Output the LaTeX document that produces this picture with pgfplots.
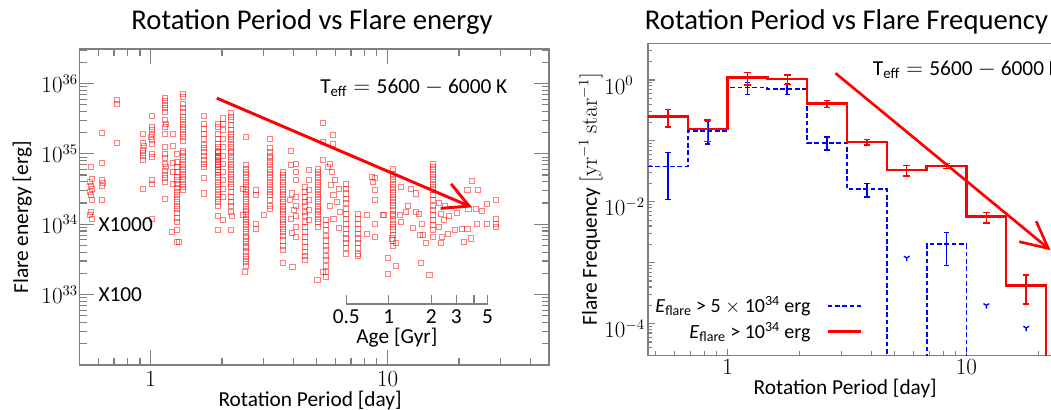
\documentclass[border=0pt]{standalone}
\usepackage[no-math]{fontspec}
\setmainfont{Carlito}
\usepackage{pgfplots}
\pgfplotsset{compat=1.18}
\usetikzlibrary{arrows.meta}
\newcommand{\lab}{\fontsize{16}{19}\selectfont}
\newcommand{\leg}{\fontsize{15}{18}\selectfont}
\newcommand{\ttl}{\fontsize{21.5}{26}\selectfont}
\definecolor{ax}{gray}{0.5}
\begin{document}
\begin{tikzpicture}[x=1pt,y=1pt]
% ---------------- left panel ----------------
\begin{axis}[
  at={(59.6pt,33.75pt)}, anchor=south west,
  scale only axis, width=352.2pt, height=237pt,
  xmode=log, ymode=log,
  xmin=0.5, xmax=48, ymin=1e32, ymax=3.1e36,
  axis line style={ax, line width=0.9pt},
  every tick/.style={ax, line width=0.9pt},
  tick align=inside,
  major tick length=11pt, minor tick length=5.5pt,
  xtick={1,10}, xticklabels={$1$,$10$},
  minor xtick={0.6,0.7,0.8,0.9,2,3,4,5,6,7,8,9,20,30,40},
  ytick={1e33,1e34,1e35,1e36},
  minor ytick={2e32,3e32,4e32,5e32,6e32,7e32,8e32,9e32,2e33,3e33,4e33,5e33,6e33,7e33,8e33,9e33,2e34,3e34,4e34,5e34,6e34,7e34,8e34,9e34,2e35,3e35,4e35,5e35,6e35,7e35,8e35,9e35,2e36,3e36},
  tick label style={font=\lab},
  xticklabel style={anchor=base, yshift=-16pt},
  yticklabel style={inner xsep=1pt},
  xlabel={Rotation Period [day]}, ylabel={Flare energy [erg]},
  label style={font=\lab},
  xlabel style={at={(axis description cs:0.491,-0.132)}, anchor=base},
  ylabel style={at={(axis description cs:-0.122,0.467)}, anchor=center},
]
\addplot[only marks, mark=square, mark size=1.9pt, red, mark options={draw opacity=0.5, line width=0.55pt, fill=none}] coordinates {
(0.56,6.6e34)(0.565,4.4e34)(0.555,4.0e34)(0.56,3.5e34)(0.565,3.2e34)(0.555,2.9e34)(0.56,2.6e34)(0.565,2.2e34)(0.56,1.5e34)(0.555,1.35e34)(0.565,1.2e34)
(0.62,2.0e35)(0.62,7.4e34)(0.62,4.3e34)(0.625,3.9e34)(0.62,3.5e34)(0.62,2.2e34)
(0.72,5.8e35)(0.72,5.2e35)(0.72,1.45e35)
(0.93,1.9e35)(0.93,1.45e35)(0.935,1.3e35)(0.93,1.15e35)(0.925,1.05e35)(0.93,9.3e34)(0.93,8.1e34)(0.93,3.2e34)
(1.01,3.5e35)(1.01,2.45e35)(1.015,2.2e35)(1.01,1.95e35)(1.005,1.75e35)(1.01,1.6e35)(1.01,1.4e35)(1.01,1.0e35)(1.01,9e34)(1.01,4.3e34)(1.01,3.8e34)(1.01,1.2e34)
(1.15,6.3e35)(1.15,5.7e35)(1.15,4.9e35)(1.145,4.5e35)(1.15,4.0e35)(1.15,3.0e35)(1.155,2.7e35)(1.15,2.4e35)(1.15,1.95e35)(1.15,1.26e35)(1.15,1.0e35)(1.145,8.7e34)(1.15,7.2e34)(1.155,6.5e34)(1.15,5.8e34)(1.15,5.0e34)(1.145,4.5e34)(1.15,4.0e34)(1.15,2.3e34)
(1.24,1.9e35)(1.24,1.3e35)(1.24,7.4e34)(1.24,5.6e34)(1.24,3.8e34)
(1.29,1.0e35)(1.29,7.8e34)(1.29,6.5e34)(1.29,5.6e34)(1.29,4.7e34)(1.29,4.3e34)(1.29,3.7e34)(1.29,3.3e34)(1.29,2.9e34)(1.29,2.6e34)(1.29,2.3e34)(1.29,2.1e34)(1.29,1.85e34)(1.29,1.65e34)(1.29,1.45e34)(1.29,1.25e34)(1.29,1.07e34)(1.29,8.3e33)(1.29,5.6e33)(1.23,7.8e33)(1.31,5.6e33)
(1.36,7.2e35)(1.36,6.5e35)(1.36,5.1e35)(1.36,4.5e35)(1.36,3.9e35)(1.36,3.4e35)(1.36,3.0e35)(1.36,2.7e35)(1.36,2.45e35)(1.36,2.2e35)(1.36,1.95e35)(1.36,1.75e35)(1.36,1.55e35)(1.36,1.12e35)(1.36,1.02e35)(1.36,9.1e34)(1.36,8.1e34)(1.36,7.2e34)(1.36,6.6e34)(1.36,5.9e34)(1.36,5.2e34)(1.36,4.7e34)(1.36,4.3e34)(1.36,3.8e34)(1.36,3.4e34)(1.36,3.1e34)
(1.68,3.5e35)(1.68,2.7e35)(1.68,2.3e35)(1.68,1.95e35)(1.68,1.65e35)(1.68,1.35e35)(1.68,1.2e35)(1.68,1.07e35)(1.68,9.5e34)(1.68,8.1e34)(1.68,7.2e34)(1.68,6.6e34)(1.68,4.5e34)(1.68,2.75e34)
(1.92,2.7e35)(1.92,2.45e35)(1.92,1.95e35)(1.92,1.65e35)(1.92,1.4e35)(1.92,1.26e35)(1.92,1.12e35)(1.92,1.07e35)(1.92,1.02e35)(1.92,9.5e34)(1.92,9.1e34)(1.92,8.7e34)(1.92,8.1e34)(1.92,7.8e34)(1.92,7.2e34)(1.92,6.9e34)(1.92,6.6e34)(1.92,6.0e34)(1.92,5.6e34)(1.92,5.0e34)(1.92,4.5e34)(1.92,4.0e34)(1.92,3.6e34)(1.92,3.2e34)(1.92,2.9e34)(1.92,2.6e34)(1.92,2.3e34)(1.92,2.1e34)(1.92,1.85e34)(1.92,1.3e34)(1.92,8.3e33)
(2.01,3.2e35)(2.01,2.7e35)(2.01,2.2e35)(2.01,1.65e35)(2.01,1.26e35)(2.01,9.5e34)(2.01,7.2e34)(2.01,5.6e34)(2.01,4.3e34)(2.01,3.2e34)(2.01,2.45e34)(2.01,1.15e34)
(2.18,3.8e35)(2.18,3.4e35)(2.18,3.0e35)(2.18,2.6e35)(2.18,2.2e35)(2.18,1.95e35)(2.18,1.75e35)(2.18,1.6e35)(2.18,1.4e35)(2.18,1.26e35)(2.18,1.12e35)(2.18,1.02e35)(2.18,9.1e34)(2.18,8.1e34)(2.18,7.2e34)(2.18,6.6e34)(2.18,5.9e34)(2.18,5.2e34)(2.18,4.7e34)(2.18,4.3e34)(2.18,3.8e34)(2.18,3.4e34)(2.18,2.9e34)(2.18,2.45e34)(2.18,2.1e34)(2.18,1.8e34)(2.18,1.5e34)(2.2,1.3e34)(2.18,8.3e33)
(2.51,1.75e35)(2.51,6.9e34)(2.51,6.2e34)(2.51,5.6e34)(2.51,5.0e34)(2.51,4.5e34)(2.51,4.0e34)(2.51,3.6e34)(2.51,3.2e34)(2.51,2.9e34)(2.51,2.6e34)(2.51,2.3e34)(2.51,2.1e34)(2.51,1.85e34)(2.51,1.65e34)(2.51,1.5e34)(2.51,1.35e34)(2.51,1.2e34)(2.51,1.07e34)(2.51,9.8e33)(2.51,8.7e33)(2.51,7.8e33)(2.51,6.9e33)(2.51,6.3e33)(2.51,5.6e33)(2.51,5.0e33)(2.51,4.6e33)(2.51,4.1e33)(2.51,3.6e33)(2.51,3.2e33)(2.51,2.95e33)(2.51,2.6e33)(2.49,2.1e33)(2.45,3.2e34)(2.45,1.35e34)
(2.77,3.1e34)(2.77,2.6e34)(2.77,1.02e34)(2.77,8.7e33)(3.0,1.35e34)
(3.19,1.65e35)(3.19,1.2e35)(3.19,1.07e35)(3.19,9.5e34)(3.19,8.7e34)(3.19,7.8e34)(3.19,6.9e34)(3.19,6.2e34)(3.19,5.6e34)(3.19,5.0e34)(3.19,4.5e34)(3.19,4.0e34)(3.19,3.6e34)(3.19,3.2e34)(3.19,2.9e34)(3.19,2.6e34)(3.19,2.2e34)(3.19,1.85e34)(3.19,1.65e34)
(3.61,5.6e34)(3.61,5.0e34)(3.61,4.5e34)(3.61,4.0e34)(3.61,3.6e34)(3.61,3.2e34)(3.61,2.9e34)(3.61,2.6e34)(3.61,2.3e34)(3.61,2.1e34)(3.61,1.85e34)(3.61,1.65e34)(3.61,1.5e34)(3.61,1.35e34)(3.61,1.2e34)(3.61,1.07e34)(3.61,9.8e33)(3.61,8.7e33)(3.61,7.8e33)(3.61,6.9e33)(3.61,5.9e33)(3.61,5.0e33)(3.61,4.3e33)(3.61,2.8e33)
(3.9,1.1e35)(3.9,6.9e34)(3.95,2.75e34)(3.85,2.2e34)(4.0,1.6e34)(3.9,1.2e34)(3.95,7.5e33)(3.96,2.5e33)
(4.08,7.2e34)(4.08,5.6e34)(4.08,4.3e34)(4.08,2.45e34)(4.08,1.8e34)(4.08,1.3e34)(4.08,9.1e33)(4.08,6.6e33)
(4.46,3.4e34)(4.46,2.9e34)(4.46,2.45e34)(4.46,2.1e34)(4.46,1.8e34)(4.46,1.5e34)(4.46,1.3e34)(4.46,1.07e34)(4.46,9.1e33)(4.46,7.8e33)(4.46,6.6e33)(4.46,5.6e33)(4.46,4.8e33)(4.46,4.1e33)(4.46,3.5e33)(4.46,3.1e33)
(4.64,5.9e34)(4.64,4.3e34)(4.64,3.1e34)(4.64,2.2e34)(4.64,1.6e34)(4.64,1.15e34)
(5.07,6.2e34)(5.07,5.6e34)(5.07,5.0e34)(5.07,4.5e34)(5.07,4.0e34)(5.07,3.6e34)(5.07,3.2e34)(5.07,2.9e34)(5.07,2.6e34)(5.07,2.3e34)(5.07,2.1e34)(5.07,1.85e34)(5.07,1.65e34)(5.07,1.5e34)(5.07,1.35e34)(5.07,1.2e34)(5.07,1.07e34)(5.07,9.1e33)(5.05,1.6e33)
(5.32,2.8e35)(5.32,1.5e35)(5.32,8.1e34)(5.85,1.85e35)(5.85,1.4e35)
(5.5,1.15e34)(5.5,9.8e33)(5.5,8.3e33)(5.5,6.9e33)(5.5,5.9e33)(5.5,5.0e33)(5.5,4.3e33)(5.5,3.6e33)(5.5,3.1e33)(5.5,2.6e33)(5.5,2.1e33)(5.5,1.8e33)(5.35,2.1e33)
(5.7,7.2e34)(5.8,5.6e34)(6.0,4.3e34)(5.75,3.6e34)(6.2,3.2e34)(5.9,2.6e34)(6.1,2.1e34)(5.7,1.8e34)(6.3,1.5e34)(5.9,1.2e34)(6.2,9e33)(5.6,6.6e34)
(6.68,3.8e34)(6.68,3.2e34)(6.68,2.75e34)(6.68,2.3e34)(6.68,2.0e34)(6.68,1.65e34)(6.68,1.4e34)(6.68,1.2e34)(6.68,1.02e34)(6.68,8.7e33)(6.68,7.4e33)(6.68,6.3e33)(6.68,5.4e33)(6.68,4.6e33)(6.68,3.8e33)
(7.48,1.4e34)(7.48,1.2e34)(7.48,1.02e34)(7.48,8.7e33)(7.48,7.4e33)(7.48,6.3e33)(7.48,5.4e33)(7.48,4.6e33)(7.48,3.8e33)(7.48,3.5e33)
(8.2,1.35e34)(8.2,7.4e33)(8.8,4.5e34)(8.8,3.1e34)(8.8,2.2e34)(8.8,1.02e34)(8.8,6.6e33)(8.6,4.7e34)(8.65,4.0e34)(9.5,1.35e34)
(10.5,6.2e34)(10.5,5.2e34)(10.5,4.7e34)(10.5,4.3e34)(10.5,3.8e34)(10.5,3.4e34)(10.5,3.1e34)(10.5,2.75e34)(10.5,2.45e34)(10.5,2.2e34)(10.5,2.0e34)(10.5,1.8e34)(10.5,1.6e34)(10.5,1.4e34)(10.5,1.3e34)(10.5,1.15e34)(10.5,1.02e34)(10.5,9.1e33)(10.5,8.3e33)(10.5,7.1e33)(10.5,5.9e33)(10.5,5.0e33)(10.0,3.3e33)(10.0,2.0e33)(10.8,2.6e33)
(11.4,3.4e34)(12.5,3.2e34)(13.1,2.75e34)(9.6,1.35e34)(11.3,1.35e34)(11.4,1.07e34)(13.1,1.5e34)(13.5,1.4e34)(13.9,1.02e34)(13.7,7.1e33)(14.1,7.1e33)(14.5,5.4e33)(13.8,2.8e33)(10.8,5.4e33)(10.4,6.3e33)(12.2,1.8e34)(11.9,1.5e34)(12.8,9e33)
(15.5,7.2e34)(15.5,6.6e34)(15.5,5.9e34)(15.5,5.2e34)(15.5,4.7e34)(15.5,4.3e34)(15.5,3.8e34)(15.5,3.4e34)(15.5,3.1e34)(15.5,2.6e34)(15.5,2.2e34)(15.5,1.85e34)(15.5,1.6e34)(15.5,1.35e34)(15.5,1.15e34)(15.5,9.8e33)(15.5,8.3e33)(15.5,6.6e33)(15.0,1.9e33)
(16.5,2.0e34)(17.5,1.8e34)(16.8,1.4e34)(18.2,1.3e34)(17.2,1.15e34)(16.5,9.1e33)(18.0,7.4e33)(17.0,6.6e33)(16.7,5.4e33)
(19.6,1.45e34)(21.7,3.1e34)(22.6,4.2e34)(24.1,3.1e34)(21.9,1.65e34)(23.6,1.65e34)(24.9,1.55e34)(20.6,8.7e33)(21.7,8.7e33)(23.9,1.0e34)(22.4,6.3e33)(21.0,5.6e33)(19.3,8.3e33)
(26.2,1.95e34)(28.5,2.2e34)(28.5,1.2e34)(28.5,1.02e34)(28.5,9.1e33)(26.2,1.02e34)
};
\addplot[red, line width=2.2pt, -{Straight Barb[length=19pt,width=20pt]}] coordinates {(1.9,6.2e35) (22.7,1.74e34)};
\end{axis}
% ---------------- age inset ----------------
\begin{axis}[
  at={(259.7pt,79.5pt)}, anchor=south west,
  scale only axis, width=106pt, height=5pt,
  xmode=log, xmin=0.5, xmax=5, ymin=0, ymax=1,
  axis x line=bottom, axis y line=none,
  axis line style={ax, line width=0.9pt, -},
  every tick/.style={ax, line width=0.9pt},
  xtick={0.5,1,2,3,4,5}, xticklabels={0.5,1,2,3,,5},
  minor xtick={}, tick align=inside, major tick length=7pt,
  tick label style={font=\lab},
  xticklabel style={anchor=base, yshift=-15pt, inner sep=0pt},
  xlabel={Age [Gyr]},
  xlabel style={font=\lab, at={(axis description cs:0.358,0)}, anchor=base, yshift=-29.6pt, inner sep=0pt},
  clip=false,
]
\addplot[draw=none] coordinates {(1,0.5)};
\end{axis}
% ---------------- right panel ----------------
\begin{axis}[
  at={(486pt,40.9pt)}, anchor=south west,
  scale only axis, width=328.4pt, height=234.15pt,
  xmode=log, ymode=log,
  xmin=0.46416, xmax=31.623, ymin=3e-5, ymax=4,
  axis line style={ax, line width=0.9pt},
  every tick/.style={ax, line width=0.9pt},
  tick align=inside, xtick pos=left, ytick pos=left,
  major tick length=5pt, minor tick length=3pt,
  xtick={1,10}, xticklabels={$1$,$10$},
  minor xtick={0.5,0.6,0.7,0.8,0.9,2,3,4,5,6,7,8,9,20,30},
  ytick={1e-4,1e-3,1e-2,1e-1,1},
  yticklabels={$10^{-4}$,,$10^{-2}$,,$10^{0}$},
  minor ytick={4e-5,5e-5,6e-5,7e-5,8e-5,9e-5,2e-4,3e-4,4e-4,5e-4,6e-4,7e-4,8e-4,9e-4,2e-3,3e-3,4e-3,5e-3,6e-3,7e-3,8e-3,9e-3,2e-2,3e-2,4e-2,5e-2,6e-2,7e-2,8e-2,9e-2,0.2,0.3,0.4,0.5,0.6,0.7,0.8,0.9,2,3},
  tick label style={font=\lab},
  xticklabel style={anchor=base, yshift=-14.6pt},
  yticklabel style={anchor=west, xshift=-33pt, yshift=-4pt, inner xsep=0pt},
  xlabel={Rotation Period [day]},
  ylabel={Flare Frequency $[\mathrm{yr}^{-1}\ \mathrm{star}^{-1}]$},
  label style={font=\lab},
  xlabel style={at={(axis description cs:0.4505,-0.126)}, anchor=base},
  ylabel style={at={(axis description cs:-0.1308,0.5)}, anchor=center},
  legend style={draw=none, fill=none, at={(axis description cs:0.49,0.118)}, anchor=east, font=\leg, row sep=2pt, inner sep=0pt, /tikz/column 1/.style={column sep=10pt}},
  legend cell align=right, legend plot pos=right,
  legend image code/.code={\draw[#1] (0pt,0pt) -- (25pt,0pt);},
]
\addplot[blue, line width=1.4pt, dash pattern=on 3.5pt off 2pt, const plot] coordinates {
(0.46416,0.038)(0.68129,0.147)(1,0.75)(1.4678,0.71)(2.1544,0.092)(3.1623,0.016)(4.6416,1e-7)(6.8129,0.0020)(10,1e-7)(31.623,1e-7)};
\addlegendentry{\textit{E}\textsubscript{flare} > 5 $\times$ 10\textsuperscript{34} erg}
\addplot[red, line width=1.8pt, const plot] coordinates {
(0.46416,0.25)(0.68129,0.157)(1,1.09)(1.4678,1.03)(2.1544,0.41)(3.1623,0.095)(4.6416,0.0335)(6.8129,0.039)(10,0.0057)(14.678,4.2e-4)(21.544,1e-7)(31.623,1e-7)};
\addlegendentry{\textit{E}\textsubscript{flare} > 10\textsuperscript{34} erg}
\addplot[blue, draw=none, mark=none, forget plot, error bars/.cd, y dir=both, y explicit, error bar style={draw=blue, solid, line width=1.3pt}, error mark options={rotate=90, draw=blue, mark size=2pt, line width=1pt}] coordinates {
(0.5623,0.038) += (0,0.026) -= (0,0.027)
(0.8254,0.147) += (0,0.06) -= (0,0.058)
(1.2115,0.75) += (0,0.15) -= (0,0.17)
(1.7783,0.71) += (0,0.15) -= (0,0.14)
(2.6102,0.092) += (0,0.023) -= (0,0.021)
(3.8312,0.016) += (0,0.004) -= (0,0.004)
(8.2540,0.0020) += (0,0.0011) -= (0,0.0011)
};
\addplot[red, draw=none, mark=none, forget plot, error bars/.cd, y dir=both, y explicit, error bar style={draw=red, solid, line width=1pt}, error mark options={rotate=90, draw=red, mark size=2.5pt, line width=1pt}] coordinates {
(0.5623,0.25) += (0,0.08) -= (0,0.082)
(0.8254,0.157) += (0,0.063) -= (0,0.06)
(1.2115,1.09) += (0,0.23) -= (0,0.26)
(1.7783,1.03) += (0,0.18) -= (0,0.18)
(2.6102,0.41) += (0,0.05) -= (0,0.06)
(3.8312,0.095) += (0,0.009) -= (0,0.01)
(5.6234,0.0335) += (0,0.0055) -= (0,0.007)
(8.2540,0.039) += (0,0.003) -= (0,0.004)
(12.115,0.0057) += (0,0.001) -= (0,0.0012)
(17.783,4.2e-4) += (0,2.1e-4) -= (0,2.1e-4)
};
\addplot[blue, only marks, mark=Mercedes star flipped, mark size=2.5pt, mark options={line width=1pt}, forget plot] coordinates {(5.6234,0.0012)(12.115,2.0e-4)(17.783,8.5e-5)};
\addplot[red, line width=2pt, -{Straight Barb[length=20pt,width=20pt]}, forget plot] coordinates {(2.83,1.29) (22.5,1.6e-3)};
\end{axis}
% ---------------- titles and texts ----------------
\node[anchor=base, font=\ttl, inner sep=0pt] at (234,285) {Rotation Period vs Flare energy};
\node[anchor=base west, font=\ttl, inner sep=0pt] at (483.5,285) {Rotation Period vs Flare Frequency};
\node[anchor=base west, font=\lab, inner sep=0pt] at (240,237.5) {T\textsubscript{eff}${}={}$5600${}-{}$6000 K};
\node[anchor=base west, font=\lab, inner sep=0pt] at (654.5,251) {T\textsubscript{eff}${}={}$5600${}-{}$6000 K};
\node[anchor=base west, font=\lab, inner sep=0pt] at (73.7,133.7) {X1000};
\node[anchor=base west, font=\lab, inner sep=0pt] at (73.7,81.2) {X100};
\pgfresetboundingbox
\useasboundingbox (0,0) rectangle (788.25,307.5);
\end{tikzpicture}
\end{document}
